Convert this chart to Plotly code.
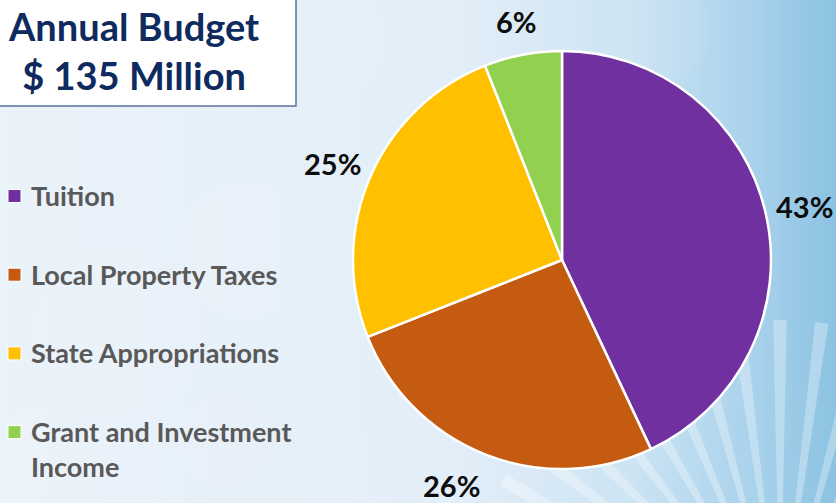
import math
import plotly.graph_objects as go

# ---- data ----
categories = ["Tuition", "Local Property Taxes", "State Appropriations", "Grant and Investment Income"]
legend_labels = ["Tuition", "Local Property Taxes", "State Appropriations", "Grant and Investment<br>Income"]
values = [43, 26, 25, 6]
colors = ["#7030A0", "#C55A11", "#FFC000", "#92D050"]
title_lines = ["Annual Budget", "$ 135 Million"]

W, H = 836, 503
def px(x):
    return x / W
def py(y):
    return 1 - y / H

# pie geometry (pixels)
cx, cy, R = 562, 260, 209

fig = go.Figure()

# background gradient (pixel-space axes)
fig.add_trace(go.Scatter(
    x=[0, W, W, 0, 0], y=[0, 0, H, H, 0],
    mode="lines", line=dict(width=0), fill="toself",
    fillgradient=dict(type="horizontal",
                      colorscale=[[0, "#EBF3FA"], [0.55, "#E2EEF8"], [0.75, "#CDE4F3"],
                                  [0.9, "#A9D2EC"], [1, "#8CC2E2"]]),
    hoverinfo="skip", showlegend=False,
))

# soft bokeh circles (decoration)
bok = [(250, 250, 140, 0.12), (120, 330, 170, 0.08), (330, 40, 110, 0.1),
       (660, 30, 100, 0.08), (40, 470, 120, 0.08), (230, 440, 100, 0.08), (380, 470, 90, 0.07)]
fig.add_trace(go.Scatter(
    x=[b[0] for b in bok], y=[b[1] for b in bok], mode="markers",
    marker=dict(size=[b[2] for b in bok], color=[f"rgba(255,255,255,{b[3]})" for b in bok],
                line=dict(width=0)),
    hoverinfo="skip", showlegend=False,
))

# light rays in the lower right (decoration)
ox, oy = 780, 640
rx, ry = [], []
for k in range(17):
    ang = math.radians(-60 + k * 7.5)
    L = 320
    w = math.radians(1.2)
    rx += [ox, ox + L * math.sin(ang - w), ox + L * math.sin(ang + w), ox, None]
    ry += [oy, oy - L * math.cos(ang - w), oy - L * math.cos(ang + w), oy, None]
fig.add_trace(go.Scatter(
    x=rx, y=ry, mode="lines", line=dict(width=0), fill="toself",
    fillcolor="rgba(255,255,255,0.3)", hoverinfo="skip", showlegend=False,
))

fig.add_trace(go.Pie(
    labels=categories, values=values, sort=False, direction="clockwise", rotation=0,
    marker=dict(colors=colors, line=dict(color="white", width=2.5)),
    textinfo="none", hoverinfo="label+percent", showlegend=False,
    domain=dict(x=[px(cx - R), px(cx + R)], y=[py(cy + R), py(cy - R)]),
))

shapes = []
# title box
shapes.append(dict(type="rect", xref="paper", yref="paper",
                   x0=px(-3), x1=px(296), y0=py(106), y1=py(-3),
                   fillcolor="white", line=dict(color="#5873A0", width=1.5), layer="above"))

annotations = []
annotations.append(dict(text="<br>".join(title_lines), xref="paper", yref="paper",
                        x=px(133), y=py(51), xanchor="center", yanchor="middle", showarrow=False,
                        align="center",
                        font=dict(family="Lato", size=38, color="#0E2A5E", weight="bold")))

# legend
row0, gap = 196, 78.7
sq = 13
for i, (lab, col) in enumerate(zip(legend_labels, colors)):
    yc = row0 + i * gap
    shapes.append(dict(type="rect", xref="paper", yref="paper",
                       x0=px(8), x1=px(8 + sq), y0=py(yc + sq / 2), y1=py(yc - sq / 2),
                       fillcolor=col, line=dict(color="white", width=1), layer="above"))
    annotations.append(dict(text=lab, xref="paper", yref="paper",
                            x=px(29), y=py(yc - 19), xanchor="left", yanchor="top",
                            showarrow=False, align="left",
                            font=dict(family="Lato", size=27, color="#595959", weight="bold")))

# percentage labels
total = sum(values)
cum = 0
for v in values:
    mid = (cum + v / 2) / total * 2 * math.pi
    cum += v
    s, c = math.sin(mid), math.cos(mid)
    ly = cy - (R + 34) * c
    if abs(s) > 0.3:
        lx = cx + (R + 8) * s
        xa = "left" if s > 0 else "right"
    else:
        lx = cx + (R + 36) * s
        xa = "center"
    annotations.append(dict(text=f"{round(v / total * 100)}%", xref="paper", yref="paper",
                            x=px(lx), y=py(ly), xanchor=xa, yanchor="middle",
                            showarrow=False,
                            font=dict(family="Lato", size=29, color="#0D0D0D", weight="bold")))

fig.update_layout(
    width=W, height=H, margin=dict(l=0, r=0, t=0, b=0),
    paper_bgcolor="#E6F0F8", plot_bgcolor="rgba(0,0,0,0)",
    xaxis=dict(range=[0, W], visible=False, fixedrange=True, domain=[0, 1]),
    yaxis=dict(range=[H, 0], visible=False, fixedrange=True, domain=[0, 1]),
    shapes=shapes, annotations=annotations, showlegend=False,
)

fig.write_html("out.html", config={"displayModeBar": False},
               post_script="document.body.style.margin='0';document.body.style.overflow='hidden';")
